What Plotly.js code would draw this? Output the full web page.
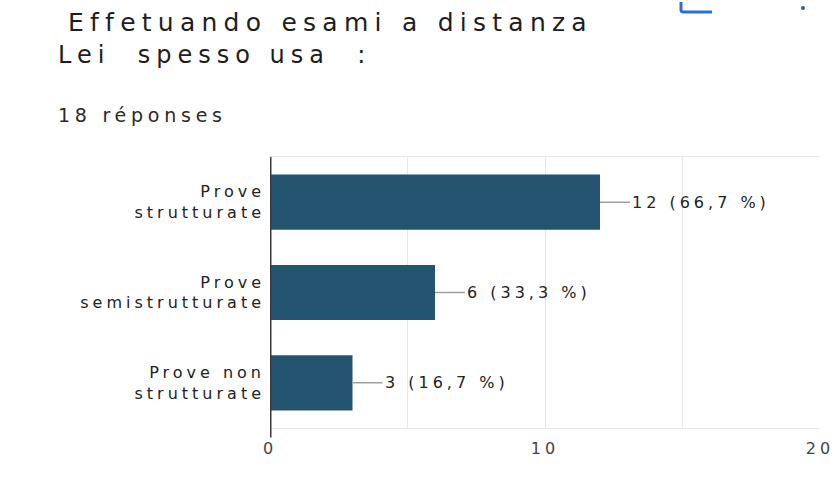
<!DOCTYPE html>
<html>
<head>
<meta charset="utf-8">
<script src="https://cdn.plot.ly/plotly-3.0.1.min.js"></script>
<style>
html,body{margin:0;padding:0;background:#fff;}
#chart{width:840px;height:478px;}
svg text{letter-spacing:0.25em;}
</style>
</head>
<body>
<div id="chart"></div>
<script>
const categories = ["Prove<br>strutturate", "Prove<br>semistrutturate", "Prove non<br>strutturate"];
const counts = [12, 6, 3];
const totalResponses = 18;
const xTickVals = [0, 10, 20];
const titleLine1 = "Effetuando esami a distanza";
const titleLine2 = "Lei&nbsp; spesso usa&nbsp; :";
const subtitle = totalResponses + " réponses";

const barColor = "#24546f";
const FONT = "'DejaVu Sans', Roboto, Arial, sans-serif";

const valueLabels = counts.map(v => v + " (" + (v / totalResponses * 100).toFixed(1).replace(".", ",") + " %)");

const L = 270, R = 20, T = 157, B = 50, W = 840, H = 478;
const pw = W - L - R, ph = H - T - B;
const px2x = px => (px - L) / pw;
const py2y = py => (H - B - py) / ph;

const annotations = categories.map((c, i) => ({
  x: counts[i], y: c, xref: "x", yref: "y",
  text: valueLabels[i], showarrow: true, arrowhead: 0, arrowwidth: 1.5,
  arrowcolor: "#a0a0a0", ax: 30, ay: 0, xanchor: "left", standoff: 0,
  font: {family: FONT, size: 16, color: "#222"}
}));
annotations.push(
  {x: px2x(66), y: py2y(22), xref: "paper", yref: "paper", xanchor: "left", yanchor: "middle",
   text: titleLine1, showarrow: false, font: {family: FONT, size: 25, color: "#1e1e1e"}},
  {x: px2x(56), y: py2y(55), xref: "paper", yref: "paper", xanchor: "left", yanchor: "middle",
   text: titleLine2, showarrow: false, font: {family: FONT, size: 24, color: "#1e1e1e"}},
  {x: px2x(56), y: py2y(115), xref: "paper", yref: "paper", xanchor: "left", yanchor: "middle",
   text: subtitle, showarrow: false, font: {family: FONT, size: 19, color: "#2a2a2a"}}
);

const data = [{
  type: "bar", orientation: "h",
  x: counts, y: categories,
  marker: {color: barColor, line: {width: 0}},
  width: 0.61, hoverinfo: "none"
}];

const layout = {
  width: W, height: H,
  margin: {l: L, r: R, t: T, b: B, pad: 0},
  paper_bgcolor: "#fff", plot_bgcolor: "#fff",
  showlegend: false,
  xaxis: {
    range: [0, 20], tickvals: xTickVals, ticktext: xTickVals.map(String),
    showgrid: true, gridcolor: "#e8e8e8", gridwidth: 1,
    minor: {dtick: 5, tick0: 0, showgrid: true, gridcolor: "#e8e8e8", gridwidth: 1},
    zeroline: false, showline: true, mirror: true, linecolor: "#e8e8e8", linewidth: 1,
    ticks: "", ticklabelstandoff: 6,
    tickfont: {family: FONT, size: 16, color: "#444"}, fixedrange: true
  },
  yaxis: {
    type: "category", autorange: "reversed",
    showgrid: false, zeroline: false, showline: false,
    ticks: "", ticklabelstandoff: 4,
    tickfont: {family: FONT, size: 16, color: "#222"}, fixedrange: true
  },
  shapes: [
    {type: "line", xref: "x", yref: "paper", x0: 0, x1: 0, y0: -0.035, y1: 1,
     line: {color: "#3a3a3a", width: 3}},
    {type: "path", xref: "paper", yref: "paper",
     path: "M " + px2x(681) + " " + py2y(2) + " L " + px2x(681) + " " + py2y(10) + " Q " + px2x(681) + " " + py2y(12) + " " + px2x(684) + " " + py2y(12) + " L " + px2x(712) + " " + py2y(12),
     line: {color: "#2a6fd6", width: 3}},
    {type: "circle", xref: "paper", yref: "paper",
     x0: px2x(801), x1: px2x(805), y0: py2y(10), y1: py2y(6),
     fillcolor: "#2a5fb0", line: {width: 0}}
  ],
  annotations: annotations
};

Plotly.newPlot("chart", data, layout, {displayModeBar: false, staticPlot: true});
</script>
</body>
</html>
